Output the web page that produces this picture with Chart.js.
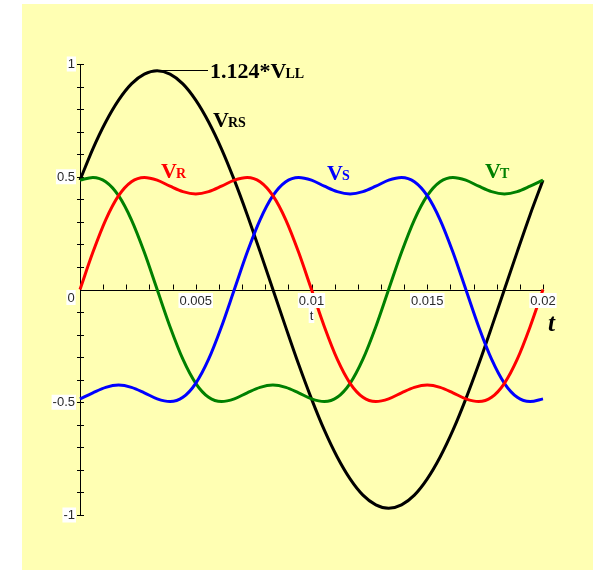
<!DOCTYPE html>
<html>
<head>
<meta charset="utf-8">
<script src="https://cdn.jsdelivr.net/npm/chart.js@4"></script>
<style>
  html, body { margin: 0; padding: 0; background: #ffffff; }
  #wrap { position: relative; width: 593px; height: 570px; }
  canvas { display: block; }
</style>
</head>
<body>
<div id="wrap"><canvas id="c" width="593" height="570"></canvas></div>
<script>
// time (s)
const times = [0, 0.000556, 0.001111, 0.001667, 0.002222, 0.002778, 0.003333, 0.003889, 0.004444, 0.005,
  0.005556, 0.006111, 0.006667, 0.007222, 0.007778, 0.008333, 0.008889, 0.009444, 0.01,
  0.010556, 0.011111, 0.011667, 0.012222, 0.012778, 0.013333, 0.013889, 0.014444, 0.015,
  0.015556, 0.016111, 0.016667, 0.017222, 0.017778, 0.018333, 0.018889, 0.019444, 0.02];
// phase voltages
const vR = [0, 0.165, 0.309, 0.416, 0.478, 0.497, 0.485, 0.458, 0.434, 0.424,
  0.434, 0.458, 0.485, 0.497, 0.478, 0.416, 0.309, 0.165, 0,
  -0.165, -0.309, -0.416, -0.478, -0.497, -0.485, -0.458, -0.434, -0.424,
  -0.434, -0.458, -0.485, -0.497, -0.478, -0.416, -0.309, -0.165, 0];
const vS = [-0.485, -0.458, -0.434, -0.424, -0.434, -0.458, -0.485, -0.497, -0.478, -0.416,
  -0.309, -0.165, 0, 0.165, 0.309, 0.416, 0.478, 0.497, 0.485,
  0.458, 0.434, 0.424, 0.434, 0.458, 0.485, 0.497, 0.478, 0.416,
  0.309, 0.165, 0, -0.165, -0.309, -0.416, -0.478, -0.497, -0.485];
const vT = [0.485, 0.497, 0.478, 0.416, 0.309, 0.165, 0, -0.165, -0.309, -0.416,
  -0.478, -0.497, -0.485, -0.458, -0.434, -0.424, -0.434, -0.458, -0.485,
  -0.497, -0.478, -0.416, -0.309, -0.165, 0, 0.165, 0.309, 0.416,
  0.478, 0.497, 0.485, 0.458, 0.434, 0.424, 0.434, 0.458, 0.485];
// line-to-line voltage
const vRS = [0.485, 0.624, 0.743, 0.840, 0.912, 0.955, 0.970, 0.955, 0.912, 0.840,
  0.743, 0.624, 0.485, 0.332, 0.168, 0, -0.168, -0.332, -0.485,
  -0.624, -0.743, -0.840, -0.912, -0.955, -0.970, -0.955, -0.912, -0.840,
  -0.743, -0.624, -0.485, -0.332, -0.168, 0, 0.168, 0.332, 0.485];
// ticks
const xTickValues = [0.005, 0.01, 0.015, 0.02];
const xTickLabels = ['0.005', '0.01', '0.015', '0.02'];
const yTickValues = [-1, -0.5, 0.5, 1];
const yTickLabels = ['-1', '-0.5', '0.5', '1'];
const xMinorStep = 0.001;
const yMinorStep = 0.1;

function pts(arr) { return times.map((t, i) => ({ x: t, y: arr[i] })); }

const bgPlugin = {
  id: 'bg',
  beforeDraw(chart) {
    const ctx = chart.ctx;
    ctx.save();
    ctx.fillStyle = '#ffffb3';
    ctx.fillRect(22, 4, 571, 566);
    ctx.restore();
  }
};

const axesPlugin = {
  id: 'axes',
  beforeDatasetsDraw(chart) {
    const ctx = chart.ctx;
    const xs = chart.scales.x, ys = chart.scales.y;
    const x0 = xs.getPixelForValue(0), y0 = ys.getPixelForValue(0);
    ctx.save();
    ctx.strokeStyle = '#000';
    ctx.lineWidth = 1;
    ctx.beginPath();
    ctx.moveTo(Math.round(x0) + 0.5, ys.getPixelForValue(1));
    ctx.lineTo(Math.round(x0) + 0.5, ys.getPixelForValue(-1));
    ctx.moveTo(x0, Math.round(y0) + 0.5);
    ctx.lineTo(xs.getPixelForValue(0.02), Math.round(y0) + 0.5);
    // y minor ticks
    for (let k = -10; k <= 10; k++) {
      if (k === 0) continue;
      const py = Math.round(ys.getPixelForValue(k * yMinorStep)) + 0.5;
      ctx.moveTo(x0 - 3, py);
      ctx.lineTo(x0 + 4, py);
    }
    // x minor ticks
    for (let k = 1; k <= 20; k++) {
      const px = Math.round(xs.getPixelForValue(k * xMinorStep)) + 0.5;
      ctx.moveTo(px, y0 - 5);
      ctx.lineTo(px, y0);
    }
    ctx.stroke();
    ctx.restore();
  },
  afterDatasetsDraw(chart) {
    const ctx = chart.ctx;
    const xs = chart.scales.x, ys = chart.scales.y;
    const x0 = xs.getPixelForValue(0), y0 = ys.getPixelForValue(0);
    ctx.save();
    ctx.font = '13px "Liberation Sans", Arial, sans-serif';
    ctx.textBaseline = 'middle';
    function boxText(txt, cx, cy, align) {
      const w = ctx.measureText(txt).width;
      let left = align === 'right' ? cx - w : cx - w / 2;
      ctx.fillStyle = '#ffffff';
      ctx.fillRect(left - 1, cy - 7.5, w + 2, 15);
      ctx.fillStyle = '#2a2a2a';
      ctx.textAlign = 'left';
      ctx.fillText(txt, left, cy + 0.5);
    }
    xTickValues.forEach((v, i) => {
      boxText(xTickLabels[i], xs.getPixelForValue(v), y0 + 11, 'center');
    });
    yTickValues.forEach((v, i) => {
      boxText(yTickLabels[i], x0 - 5, ys.getPixelForValue(v), 'right');
    });
    boxText('0', x0 - 9, y0 + 8, 'center');
    boxText('t', xs.getPixelForValue(0.01), y0 + 26, 'center');

    // big axis name
    ctx.fillStyle = '#000';
    ctx.font = 'italic bold 25px "Liberation Serif", "Times New Roman", serif';
    ctx.textAlign = 'left';
    ctx.textBaseline = 'alphabetic';
    ctx.fillText('t', 548, 331);

    function vLabel(main, sub, x, base, color) {
      ctx.fillStyle = color;
      ctx.textAlign = 'left';
      ctx.textBaseline = 'alphabetic';
      ctx.font = 'bold 22px "Liberation Serif", "Times New Roman", serif';
      ctx.fillText(main, x, base);
      const w = ctx.measureText(main).width;
      ctx.font = 'bold 14px "Liberation Serif", "Times New Roman", serif';
      ctx.fillText(sub, x + w - 1, base);
    }
    // peak marker line
    const peakX = xs.getPixelForValue(0.003333), peakY = ys.getPixelForValue(0.97);
    ctx.strokeStyle = '#000';
    ctx.lineWidth = 1;
    ctx.beginPath();
    ctx.moveTo(peakX, Math.round(peakY) - 0.5);
    ctx.lineTo(208, Math.round(peakY) - 0.5);
    ctx.stroke();
    vLabel('1.124*V', 'LL', 210, 78, '#000');
    vLabel('V', 'RS', 213, 127, '#000');
    vLabel('V', 'R', 161, 178, '#ff0000');
    vLabel('V', 'S', 327, 180, '#0000ff');
    vLabel('V', 'T', 485, 178, '#008000');
    ctx.restore();
  }
};

new Chart(document.getElementById('c'), {
  type: 'line',
  data: {
    datasets: [
      { label: 'VR', data: pts(vR), borderColor: '#ff0000' },
      { label: 'VS', data: pts(vS), borderColor: '#0000ff' },
      { label: 'VT', data: pts(vT), borderColor: '#008000' },
      { label: 'VRS', data: pts(vRS), borderColor: '#000000' }
    ]
  },
  options: {
    responsive: false,
    animation: false,
    devicePixelRatio: 1,
    layout: { padding: { left: 80, right: 50, top: 64, bottom: 55 } },
    elements: {
      point: { radius: 0 },
      line: { borderWidth: 3, cubicInterpolationMode: 'monotone', fill: false }
    },
    datasets: { line: { clip: false } },
    plugins: { legend: { display: false }, tooltip: { enabled: false } },
    scales: {
      x: { type: 'linear', min: 0, max: 0.02, display: false },
      y: { type: 'linear', min: -1, max: 1, display: false }
    }
  },
  plugins: [bgPlugin, axesPlugin]
});
</script>
</body>
</html>
